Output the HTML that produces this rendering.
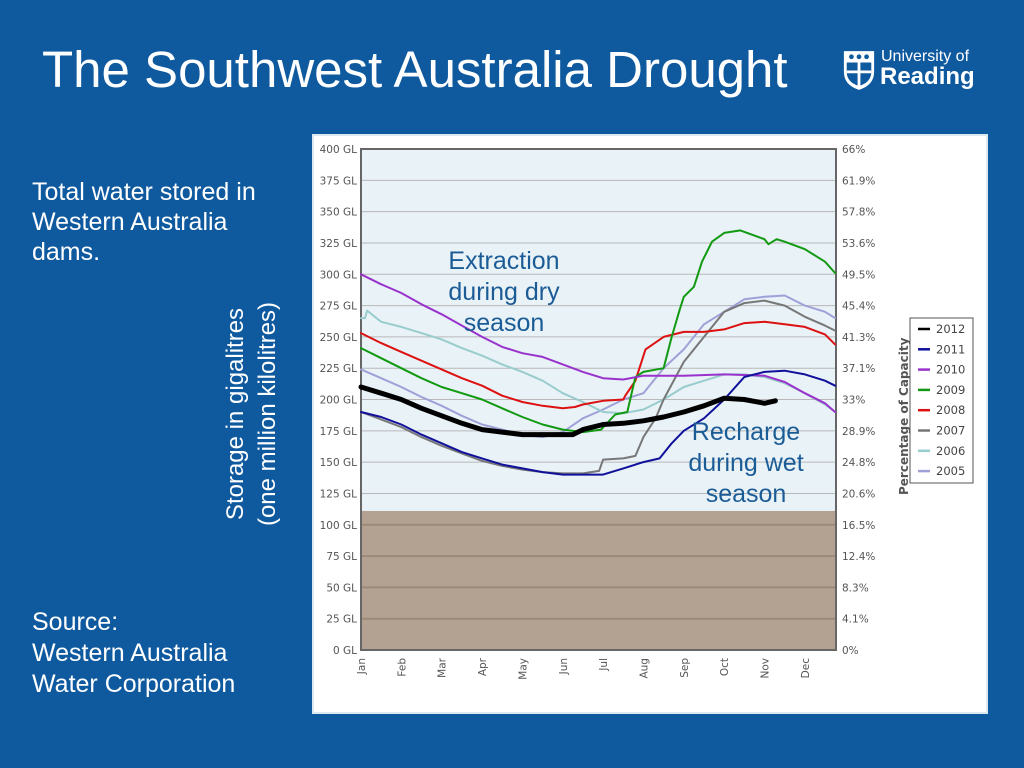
<!DOCTYPE html>
<html><head><meta charset="utf-8">
<style>
html,body{margin:0;padding:0}
body{width:1024px;height:768px;background:#0f5a9f;position:relative;overflow:hidden;font-family:"Liberation Sans",sans-serif;color:#fff}
.t{position:absolute;white-space:nowrap}
</style></head><body>
<div class="t" style="left:42px;top:40px;font-size:51px;line-height:60px">The Southwest Australia Drought</div>
<div style="position:absolute;left:842px;top:48px;width:140px;height:50px">
 <svg width="34" height="44" viewBox="0 0 36 44" style="position:absolute;left:0;top:0"><path d="M2 2H34V24Q34 38 18 43Q2 38 2 24Z" fill="#fff"/><path d="M5 14H31V24Q31 35 18 39Q5 35 5 24Z" fill="#0f5a9f"/><circle cx="10" cy="8" r="2.5" fill="#0f5a9f"/><circle cx="18" cy="8" r="2.5" fill="#0f5a9f"/><circle cx="26" cy="8" r="2.5" fill="#0f5a9f"/><path d="M18 14V39M5 24H31" stroke="#fff" stroke-width="3"/></svg>
 <div class="t" style="left:39px;top:0px;font-size:16px">University of</div>
 <div class="t" style="left:38px;top:15px;font-size:24px;font-weight:bold">Reading</div>
</div>
<div class="t" style="left:32px;top:177px;font-size:25px;line-height:30px">Total water stored in<br>Western Australia<br>dams.</div>
<div class="t" style="left:32px;top:607px;font-size:25px;line-height:31px">Source:<br>Western Australia<br>Water Corporation</div>
<div class="t" style="left:252px;top:414px;font-size:24px;line-height:32px;text-align:center;transform:translate(-50%,-50%) rotate(-90deg)">Storage in gigalitres<br>(one million kilolitres)</div>

<svg id="chart" width="676" height="580" style="position:absolute;left:312px;top:134px" font-family="Verdana,'DejaVu Sans',sans-serif"></svg>

<script>
const leftTicks=[0,25,50,75,100,125,150,175,200,225,250,275,300,325,350,375,400];
const rightTicks=["0%","4.1%","8.3%","12.4%","16.5%","20.6%","24.8%","28.9%","33%","37.1%","41.3%","45.4%","49.5%","53.6%","57.8%","61.9%","66%"];
const months=["Jan","Feb","Mar","Apr","May","Jun","Jul","Aug","Sep","Oct","Nov","Dec"];
const deadStorage=111;
const years=["2012","2011","2010","2009","2008","2007","2006","2005"];
const colors=["#000000","#10109a","#9933cc","#119911","#dd1111","#777777","#99cccc","#a0a0d8"];
const m2012=[0,0.5,1,1.5,2,2.5,3,3.5,4,4.5,5,5.25,5.5,6,6.5,7,7.5,8,8.5,9,9.5,10,10.27];
const v2012=[210,205,200,193,187,181,176,174,172,172,172,172,176,180,181,183,186,190,195,201,200,197,199];
const m2011=[0,0.5,1,1.5,2,2.5,3,3.5,4,4.5,5,5.5,6,6.5,7,7.4,7.7,8,8.5,9,9.5,10,10.5,11,11.5,11.75];
const v2011=[190,186,180,172,165,158,153,148,145,142,140,140,140,145,150,153,165,175,185,200,218,222,223,220,215,211];
const m2010=[0,0.5,1,1.5,2,2.5,3,3.5,4,4.5,5,5.5,6,6.5,7,8,9,10,10.5,11,11.5,11.75];
const v2010=[300,292,285,276,268,259,250,242,237,234,228,222,217,216,219,219,220,219,214,205,197,190];
const m2009=[0,0.5,1,1.5,2,2.5,3,3.5,4,4.5,5,5.5,5.95,6.3,6.6,6.8,7,7.5,7.7,7.9,8,8.25,8.45,8.7,9,9.4,10,10.1,10.3,10.5,11,11.5,11.75];
const v2009=[241,233,225,217,210,205,200,193,186,180,176,174,176,188,190,218,222,225,250,272,282,290,310,326,333,335,328,324,328,326,320,310,301];
const m2008=[0,0.5,1,1.5,2,2.5,3,3.5,4,4.5,5,5.3,5.5,6,6.5,6.55,6.8,7.05,7.5,8,8.5,9,9.5,10,10.5,11,11.5,11.75];
const v2008=[253,245,238,231,224,217,211,203,198,195,193,194,196,199,200,203,215,240,250,254,254,256,261,262,260,258,252,244];
const m2007=[0,0.5,1,1.5,2,2.5,3,3.5,4,4.5,5,5.5,5.9,6,6.5,6.8,7,7.3,7.5,8,8.5,9,9.5,10,10.5,11,11.5,11.75];
const v2007=[190,184,178,170,163,157,151,147,144,142,141,141,143,152,153,155,170,185,200,230,250,270,277,279,275,266,259,255];
const m2006=[0,0.1,0.15,0.5,1,1.5,2,2.5,3,3.5,4,4.5,5,5.5,6,6.5,7,7.5,8,8.5,9,9.5,10,10.5,11,11.5,11.75];
const v2006=[265,265,271,262,258,253,248,241,235,228,222,215,205,198,190,189,192,200,210,215,220,220,218,213,205,196,190];
const m2005=[0,0.5,1,1.5,2,2.5,3,3.5,4,4.5,5,5.5,6,6.5,7,7.5,8,8.5,9,9.5,10,10.5,11,11.5,11.75];
const v2005=[224,217,210,202,195,187,180,176,172,170,174,185,192,200,205,225,240,260,270,280,282,283,275,270,265];
const seriesM=[m2012,m2011,m2010,m2009,m2008,m2007,m2006,m2005];
const seriesV=[v2012,v2011,v2010,v2009,v2008,v2007,v2006,v2005];

const NS="http://www.w3.org/2000/svg";
const svg=document.getElementById('chart');
const X0=49,X1=524,Y0=516,YT=15;
function yS(v){return Y0-(v/400)*(Y0-YT);}
function xS(m){return X0+m*40.35;}
function mk(tag,attrs,parent){const e=document.createElementNS(NS,tag);for(const k in attrs)e.setAttribute(k,attrs[k]);(parent||svg).appendChild(e);return e;}

const bg=mk('rect',{x:0,y:0,width:676,height:580,fill:'#ffffff'});


const outer=mk('rect',{x:0,y:0,width:676,height:580,fill:'none',stroke:'#dbe8f0','stroke-width':4});


const plot=mk('rect',{x:X0,y:YT,width:X1-X0,height:Y0-YT,fill:'#e8f2f7'});


const dead=mk('rect',{x:X0,y:yS(deadStorage),width:X1-X0,height:Y0-yS(deadStorage),fill:'#b3a291'});



leftTicks.forEach((t,i)=>{
  const y=yS(t);
  const g=mk('line',{x1:X0,x2:X1,y1:y,y2:y,stroke:t<deadStorage?'#9c8a78':'#b8b8b8','stroke-width':t<deadStorage?2:1});
  
  
  const l=mk('text',{x:X0-4,y:y+4,'text-anchor':'end','font-size':10.5,fill:'#555'});
  l.textContent=t+' GL';
  
  
  const r=mk('text',{x:X1+6,y:y+4,'font-size':10.5,fill:'#555'});
  r.textContent=rightTicks[i];
  
  
});
months.forEach((mo,i)=>{
  const x=xS(i);
  const t=mk('text',{x:x+4,y:Y0+8,'text-anchor':'end','font-size':10.5,fill:'#555',transform:`rotate(-90 ${x+4} ${Y0+8})`});
  t.textContent=mo;
  
  
});
const frame=mk('rect',{x:X0,y:YT,width:X1-X0,height:Y0-YT,fill:'none',stroke:'#666','stroke-width':2});



for(let s=seriesM.length-1;s>=0;s--){
  const pts=seriesM[s].map((m,i)=>xS(m).toFixed(1)+','+yS(seriesV[s][i]).toFixed(1)).join(' ');
  const p=mk('polyline',{points:pts,fill:'none',stroke:colors[s],'stroke-width':s===0?5:2,'stroke-linejoin':'round','stroke-linecap':'round'});
  
  
}

const rt=mk('text',{x:596,y:361,'font-size':12,'font-weight':'bold',fill:'#555',transform:'rotate(-90 596 361)'});
rt.textContent='Percentage of Capacity';


const lg=mk('rect',{x:598,y:184,width:63,height:165,fill:'#fff',stroke:'#555','stroke-width':1});


years.forEach((yr,i)=>{
  const y=195+i*20.3;
  const l=mk('line',{x1:606,x2:618,y1:y,y2:y,stroke:colors[i],'stroke-width':2.5});
  
  
  const t=mk('text',{x:624,y:y+4,'font-size':11.5,fill:'#444'});
  t.textContent=yr;
  
  
});
function note(lines,cx,y0,name){
  lines.forEach((s,i)=>{
    const t=mk('text',{x:cx,y:y0+i*31,'text-anchor':'middle','font-size':25,fill:'#1b5c96','font-family':'Liberation Sans,sans-serif'});
    t.textContent=s;
    
    
  });
}
note(["Extraction","during dry","season"],192,135,'annotation-extraction');
note(["Recharge","during wet","season"],434,306,'annotation-recharge');
</script>
</body></html>
